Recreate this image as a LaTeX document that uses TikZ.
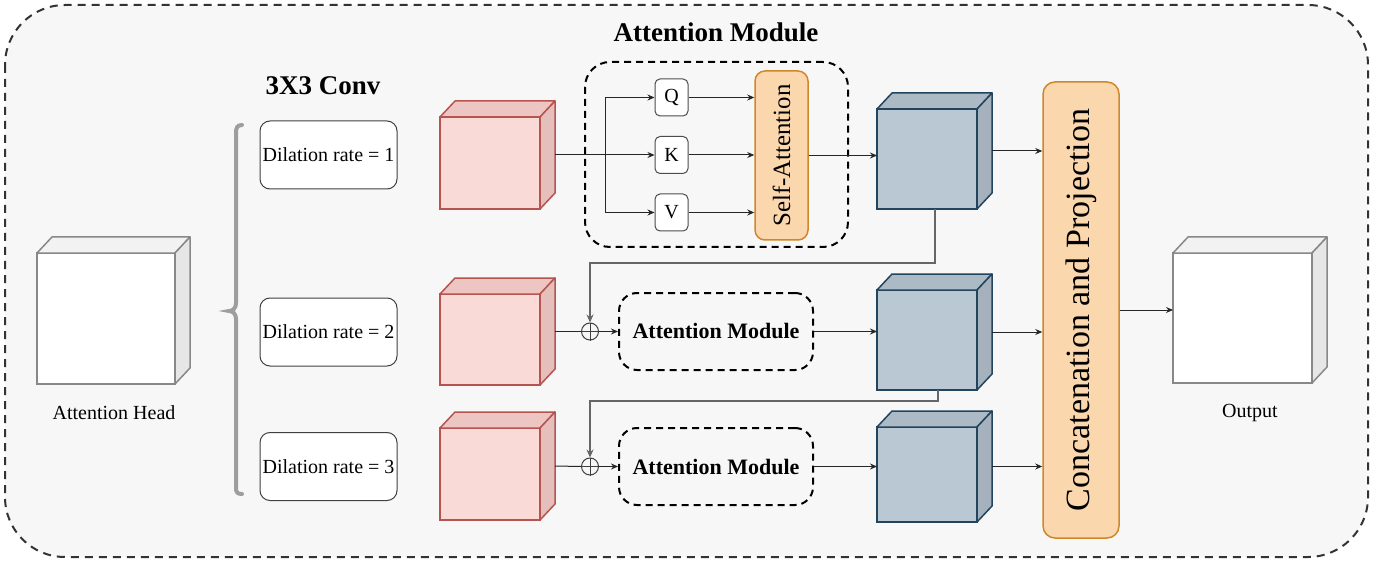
\documentclass[tikz,border=0pt]{standalone}
\usepackage{fontspec}
\setmainfont{Liberation Serif}
\usepackage{graphicx}
\usetikzlibrary{arrows.meta,calc}
\definecolor{bgc}{HTML}{F7F7F7}
\definecolor{pinkf}{HTML}{FADAD6}
\definecolor{pinkt}{HTML}{EDC6C3}
\definecolor{pinks}{HTML}{E4BFBC}
\definecolor{pinkd}{HTML}{B85450}
\definecolor{bluef}{HTML}{BAC8D3}
\definecolor{bluet}{HTML}{ACBAC6}
\definecolor{blues}{HTML}{A5B2BD}
\definecolor{blued}{HTML}{23445D}
\definecolor{whitet}{HTML}{F2F2F2}
\definecolor{whites}{HTML}{E6E6E6}
\definecolor{whited}{HTML}{888888}
\definecolor{orgf}{HTML}{FAD7AC}
\definecolor{orgd}{HTML}{D0872C}
\newcommand{\drawcube}[9]{%
  \node[draw=#9, fill=#6, line width=0.75pt, minimum width=#4*0.5pt, minimum height=#5*0.5pt, inner sep=0pt, outer sep=0pt] (#1) at (#2,#3) {};
  \draw[draw=#9, fill=#7, line width=0.75pt, line join=round] (#1.north west) -- ++(15,-16) -- ++(#4,0) -- (#1.north east) -- cycle;
  \draw[draw=#9, fill=#8, line width=0.75pt, line join=round] (#1.north east) -- ++(15,-16) -- ++(0,#5) -- (#1.south east) -- cycle;
  \coordinate (#1-s) at ($(#1.east)+(15,-8)$);
}
\begin{document}
\begin{tikzpicture}[x=0.5pt,y=-0.5pt,
  conn/.style={draw=black!85, line width=0.5pt, -{Stealth[length=3.5pt,width=3pt]}},
  plain/.style={draw=black!85, line width=0.5pt},
  skip/.style={draw=black!60, line width=0.6pt, -{Stealth[length=4pt,width=3.5pt]}},
  dilbox/.style={draw=black!75, fill=white, rounded corners=5pt, line width=0.5pt, minimum width=68.5pt, minimum height=34pt, inner sep=0pt, font=\fontsize{10}{12}\selectfont},
  qkv/.style={draw=black!70, fill=white, rounded corners=2.5pt, line width=0.5pt, minimum width=16.5pt, minimum height=18.5pt, inner sep=0pt, font=\fontsize{10}{12}\selectfont},
  orangebox/.style={draw=orgd, fill=orgf, line width=0.75pt, inner sep=0pt},
  dashbox/.style={draw=black, line width=1pt, dash pattern=on 3.5pt off 2.5pt, inner sep=0pt},
  lbl/.style={font=\fontsize{10}{12}\selectfont, inner sep=0pt},
  xcirc/.style={circle, draw=black!75, line width=0.5pt, minimum size=8.5pt, inner sep=0pt}
]
\useasboundingbox (0,0) rectangle (1380,561);
% outer container
\draw[fill=bgc, draw=black!80, line width=1pt, dash pattern=on 4pt off 3pt, rounded corners=30pt] (5,5) rectangle (1368,557);
\node[font=\bfseries\fontsize{13.5}{16}\selectfont] (title) at (716,32) {Attention Module};
\node[font=\bfseries\fontsize{13.5}{16}\selectfont] (conv) at (323,86) {3X3 Conv};

% attention head
\drawcube{ah}{106}{318.5}{138}{131}{white}{whitet}{whites}{whited}
\node[lbl] (ahl) at (114,413) {Attention Head};

% brace
\draw[draw=black!38, line width=2pt, line cap=round] (242,125) .. controls (237,125) and (236,128) .. (236,133) -- (236,303) .. controls (236,308) and (233,311) .. (229,311) .. controls (233,311) and (236,314) .. (236,319) -- (236,488) .. controls (236,492) and (237,494) .. (242,494);

% dilation boxes
\node[dilbox] (d1) at (328.5,155) {Dilation rate = 1};
\node[dilbox] (d2) at (328.5,332) {Dilation rate = 2};
\node[dilbox] (d3) at (328.5,466.5) {Dilation rate = 3};

% pink cubes
\drawcube{p1}{490}{163}{100}{92}{pinkf}{pinkt}{pinks}{pinkd}
\drawcube{p2}{490}{339.5}{100}{91}{pinkf}{pinkt}{pinks}{pinkd}
\drawcube{p3}{490}{474}{100}{92}{pinkf}{pinkt}{pinks}{pinkd}

% blue cubes
\drawcube{b1}{927}{159}{100}{100}{bluef}{bluet}{blues}{blued}
\drawcube{b2}{927}{340}{100}{100}{bluef}{bluet}{blues}{blued}
\drawcube{b3}{927}{474.5}{100}{95}{bluef}{bluet}{blues}{blued}

% output cube
\drawcube{out}{1242.5}{318}{139}{130}{white}{whitet}{whites}{whited}
\node[lbl] (outl) at (1250,413) {Output};

% attention module 1
\node[dashbox, rounded corners=12.5pt, minimum width=131.5pt, minimum height=92.5pt] (am1) at (716.5,154.5) {};
\node[qkv] (q) at (671.5,97.5) {Q};
\node[qkv] (k) at (671.5,155) {K};
\node[qkv] (v) at (671.5,212.5) {V};
\node[orangebox, rounded corners=5pt, minimum width=26.5pt, minimum height=84.5pt] (sa) at (781.5,155.5) {\rotatebox{90}{\fontsize{12.4}{14}\selectfont Self-Attention}};
\coordinate (br) at (605,155);
\draw[conn] (p1-s) -- (k.west);
\draw[conn] (br) |- (q.west);
\draw[conn] (br) |- (v.west);
\draw[conn] (q.east) -- (q.east -| sa.west);
\draw[conn] (k.east) -- (k.east -| sa.west);
\draw[conn] (v.east) -- (v.east -| sa.west);
\draw[conn] (sa.east) -- (sa.east -| b1.west);

% attention modules 2,3
\node[dashbox, rounded corners=9pt, minimum width=97pt, minimum height=38.5pt, font=\bfseries\fontsize{11}{13}\selectfont] (am2) at (716,331.5) {Attention Module};
\node[dashbox, rounded corners=9pt, minimum width=97pt, minimum height=38.5pt, font=\bfseries\fontsize{11}{13}\selectfont] (am3) at (716,466.5) {Attention Module};
\node[xcirc] (c2) at (590,331.5) {};
\node[xcirc] (c3) at (590,466.5) {};
\draw[plain, draw=black!75] (c2.north) -- (c2.south) (c2.west) -- (c2.east);
\draw[plain, draw=black!75] (c3.north) -- (c3.south) (c3.west) -- (c3.east);
\draw[plain] (p2-s) -- (c2.west);
\draw[plain] (p3-s) -- (c3.west);
\draw[conn] (c2.east) -- (am2.west);
\draw[conn] (c3.east) -- (am3.west);
\draw[conn] (am2.east) -- (am2.east -| b2.west);
\draw[conn] (am3.east) -- (am3.east -| b3.west);
\draw[skip] ($(b1.south)+(8,0)$) -- ++(0,54) -| (c2.north);
\draw[skip] ($(b2.south)+(11,0)$) -- ++(0,11) -| (c3.north);

% concat
\node[orangebox, rounded corners=6pt, minimum width=38pt, minimum height=228pt] (cc) at (1081,310) {\rotatebox{90}{\fontsize{17}{20}\selectfont Concatenation and Projection}};
\draw[conn] (b1-s) -- (b1-s -| cc.west);
\draw[conn] (b2-s) -- (b2-s -| cc.west);
\draw[conn] (b3-s) -- (b3-s -| cc.west);
\draw[conn] (cc.east) -- (cc.east -| out.west);
\end{tikzpicture}
\end{document}
